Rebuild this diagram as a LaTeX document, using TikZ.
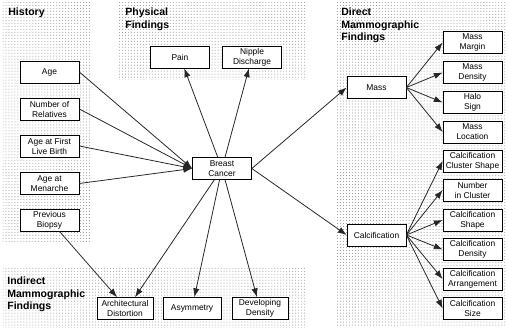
\documentclass[tikz,border=0pt]{standalone}
\usepackage{fontspec}
\setmainfont{Liberation Sans}
\usetikzlibrary{arrows.meta,patterns.meta,shadows}

\begin{document}
\begin{tikzpicture}[x=0.02cm,y=-0.02cm,
        area/.style={pattern={Dots[distance=1.7pt,radius=0.28pt]},pattern color=black!45},
        title/.style={anchor=north west,align=left,inner sep=0pt,font=\bfseries\fontsize{6}{7}\selectfont},
        box/.style={draw,fill=white,align=center,inner sep=1pt,minimum width=1.18cm,minimum height=0.44cm,
            font=\fontsize{4.8}{5.7}\selectfont,
            drop shadow={shadow xshift=0.5pt,shadow yshift=-0.5pt,opacity=1,fill=black}},
        link/.style={-{Latex[length=5pt,width=3.6pt]},line width=0.45pt,black!85}]
    \useasboundingbox (0,0) rectangle (508,331);
    % shaded groups
    \fill[area] (3,3) rectangle (92,243);
    \fill[area] (119,3) rectangle (307,80);
    \fill[area] (337,3) rectangle (506,327);
    \fill[area] (3,268) rectangle (306,328);
    \node[title] at (8,8) {History};
    \node[title] at (125,8) {Physical\\Findings};
    \node[title] at (341,8) {Direct\\Mammographic\\Findings};
    \node[title] at (7,277) {Indirect\\Mammographic\\Findings};
    % history
    \foreach \n/\y/\t in {age/72/Age,rel/109/Number of\\Relatives,birth/146/Age at First\\Live Birth,
            men/183.5/Age at\\Menarche,biopsy/220/Previous\\Biopsy}{
        \node[box] (\n) at (49.5,\y) {\t};
    }
    \node[box] (cancer) at (222,168.5) {Breast\\Cancer};
    \node[box] (pain) at (180,57) {Pain};
    \node[box] (nipple) at (252,57) {Nipple\\Discharge};
    \node[box] (mass) at (376.5,87.5) {Mass};
    \node[box] (calc) at (376.5,235) {Calcification};
    \foreach \n/\y/\t in {margin/42.5/Mass\\Margin,mdens/72.5/Mass\\Density,halo/102.5/Halo\\Sign,
            mloc/132/Mass\\Location}{
        \node[box] (\n) at (472.5,\y) {\t};
    }
    \foreach \n/\y/\t in {cclus/161/Calcification\\Cluster Shape,cnum/190/Number\\in Cluster,
            cshape/220/Calcification\\Shape,cdens/249.5/Calcification\\Density,
            carr/279/Calcification\\Arrangement,csize/308.5/Calcification\\Size}{
        \node[box] (\n) at (472.5,\y) {\t};
    }
    \node[box,minimum width=1.12cm] (arch) at (125,308.5) {Architectural\\Distortion};
    \node[box,minimum width=1.16cm] (asym) at (192,308.5) {Asymmetry};
    \node[box,minimum width=1.12cm] (dev) at (260,308.5) {Developing\\Density};
    % arcs
    \foreach \n in {age,rel,birth,men}
        \draw[link] (\n.east) -- (cancer.west);
    \draw[link] (cancer) -- (pain);
    \draw[link] (cancer) -- (nipple);
    \draw[link] (cancer.east) -- (mass.west);
    \draw[link] (cancer.east) -- (calc.west);
    \draw[link] (cancer) -- ([xshift=0.2cm]arch.north);
    \draw[link] (biopsy) -- ([xshift=-0.16cm]arch.north);
    \draw[link] (cancer) -- (asym);
    \draw[link] (cancer) -- (dev);
    \foreach \n in {margin,mdens,halo,mloc}
        \draw[link] (mass.east) -- (\n.west);
    \foreach \n in {cclus,cnum,cshape,cdens,carr,csize}
        \draw[link] (calc.east) -- (\n.west);
\end{tikzpicture}
\end{document}
